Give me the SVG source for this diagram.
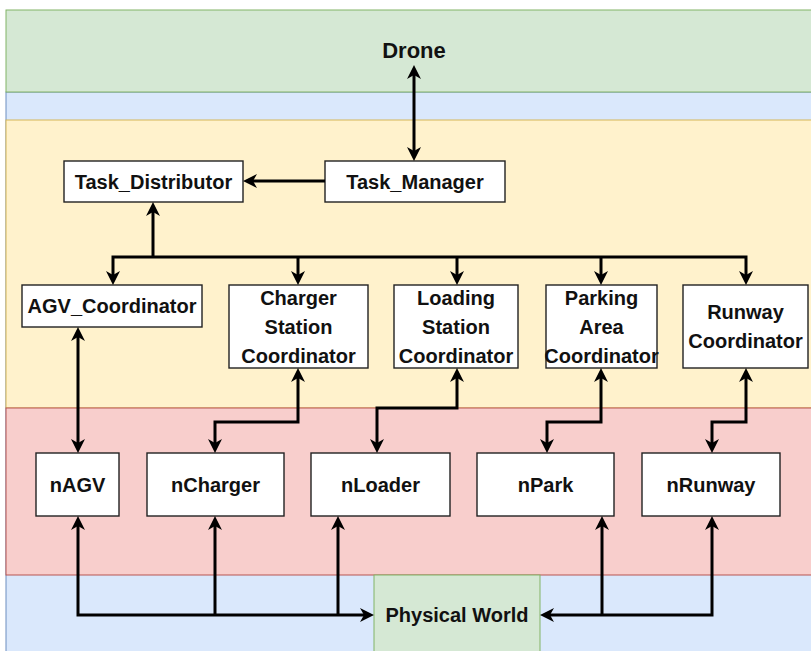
<svg xmlns="http://www.w3.org/2000/svg" width="811" height="651" viewBox="0 0 811 651">
  <style>
    .lbl { font-family: "Liberation Sans", Arial, sans-serif; font-weight: bold; font-size: 20px; fill: #111; text-anchor: middle; }
    .box { fill: #ffffff; stroke: #222; stroke-width: 1.4; }
    .wire { fill: none; stroke: #000; stroke-width: 3; stroke-linejoin: miter; }
    .arr { marker-end: url(#head); }
    .both { marker-start: url(#head); marker-end: url(#head); }
  </style>
  <defs>
    <marker id="head" viewBox="0 0 14 14" markerWidth="14" markerHeight="14" refX="8" refY="7" markerUnits="userSpaceOnUse" orient="auto-start-reverse">
      <path d="M0,0 L14,7 L0,14 L4,7 Z" fill="#000"/>
    </marker>
  </defs>

  <!-- layer bands -->
  <g id="bands">
    <rect x="6" y="92" width="820" height="570" fill="#dae8fc" stroke="#6c8ebf" stroke-width="1"/>
    <rect x="6" y="10" width="820" height="82" fill="#d5e8d4" stroke="#82b366" stroke-width="1"/>
    <rect x="6" y="120" width="820" height="288" fill="#fff2cc" stroke="#d6b656" stroke-width="1"/>
    <rect x="6" y="408" width="820" height="167" fill="#f8cecc" stroke="#b85450" stroke-width="1"/>
  </g>

  <g id="drone">
    <text class="lbl" x="414" y="58" style="font-size:22px">Drone</text>
  </g>

  <g id="physical-world">
    <rect x="374" y="575" width="166" height="90" fill="#d5e8d4" stroke="#82b366" stroke-width="1"/>
    <text class="lbl" x="457" y="622">Physical World</text>
  </g>

  <g id="task-manager">
    <rect class="box" x="325" y="161" width="180" height="41"/>
    <text class="lbl" x="415" y="188.5">Task_Manager</text>
  </g>
  <g id="task-distributor">
    <rect class="box" x="64" y="161" width="179" height="41"/>
    <text class="lbl" x="153.5" y="188.5">Task_Distributor</text>
  </g>

  <g id="agv-coordinator">
    <rect class="box" x="22" y="285" width="180" height="42"/>
    <text class="lbl" x="112" y="313">AGV_Coordinator</text>
  </g>
  <g id="charger-coordinator">
    <rect class="box" x="229" y="285" width="139" height="83"/>
    <text class="lbl" x="298.5" y="304.5">Charger</text>
    <text class="lbl" x="298.5" y="333.5">Station</text>
    <text class="lbl" x="298.5" y="362.5">Coordinator</text>
  </g>
  <g id="loading-coordinator">
    <rect class="box" x="394" y="285" width="124" height="83"/>
    <text class="lbl" x="456" y="304.5">Loading</text>
    <text class="lbl" x="456" y="333.5">Station</text>
    <text class="lbl" x="456" y="362.5">Coordinator</text>
  </g>
  <g id="parking-coordinator">
    <rect class="box" x="546" y="285" width="111" height="83"/>
    <text class="lbl" x="601.5" y="304.5">Parking</text>
    <text class="lbl" x="601.5" y="333.5">Area</text>
    <text class="lbl" x="601.5" y="362.5">Coordinator</text>
  </g>
  <g id="runway-coordinator">
    <rect class="box" x="683" y="285" width="125" height="83"/>
    <text class="lbl" x="745.5" y="319">Runway</text>
    <text class="lbl" x="745.5" y="348">Coordinator</text>
  </g>

  <g id="nagv">
    <rect class="box" x="36" y="453" width="83" height="63"/>
    <text class="lbl" x="77.5" y="491.5">nAGV</text>
  </g>
  <g id="ncharger">
    <rect class="box" x="147" y="453" width="137" height="63"/>
    <text class="lbl" x="215.5" y="491.5">nCharger</text>
  </g>
  <g id="nloader">
    <rect class="box" x="311" y="453" width="139" height="63"/>
    <text class="lbl" x="380.5" y="491.5">nLoader</text>
  </g>
  <g id="npark">
    <rect class="box" x="477" y="453" width="137" height="63"/>
    <text class="lbl" x="545.5" y="491.5">nPark</text>
  </g>
  <g id="nrunway">
    <rect class="box" x="642" y="453" width="138" height="63"/>
    <text class="lbl" x="711" y="491.5">nRunway</text>
  </g>

  <!-- connectors -->
  <g id="connectors">
    <path class="wire both" d="M414,71 V155"/>
    <path class="wire arr" d="M325,181 H249"/>
    <path class="wire arr" d="M153,257 V208"/>
    <path class="wire both" d="M113,279 V257 H746 V279"/>
    <path class="wire arr" d="M298,257 V279"/>
    <path class="wire arr" d="M457,257 V279"/>
    <path class="wire arr" d="M601,257 V279"/>

    <path class="wire both" d="M78,333 V447"/>
    <path class="wire both" d="M298,374 V422 H215 V447"/>
    <path class="wire both" d="M457,374 V408 H377 V447"/>
    <path class="wire both" d="M601,374 V422 H547 V447"/>
    <path class="wire both" d="M746,374 V422 H712 V447"/>

    <path class="wire both" d="M78,522 V615 H368"/>
    <path class="wire arr" d="M215,615 V522"/>
    <path class="wire arr" d="M338,615 V522"/>
    <path class="wire both" d="M712,522 V615 H546"/>
    <path class="wire arr" d="M602,615 V522"/>
  </g>
</svg>
